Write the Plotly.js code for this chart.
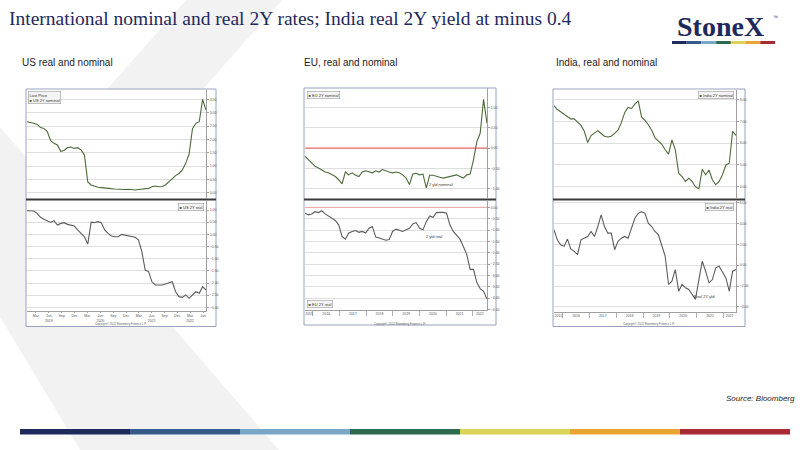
<!DOCTYPE html>
<html>
<head>
<meta charset="utf-8">
<script src="https://cdn.plot.ly/plotly-3.0.1.min.js"></script>
<style>
html, body { margin: 0; padding: 0; background: #fff; }
#chart { width: 800px; height: 450px; }
</style>
</head>
<body>
<div id="chart"></div>
<script>
// US 2Y yields (nominal on top, real below), end 2018 to mid 2022
var usStart = '2018-12-28', usEnd = '2022-06-22';
var usNominal = [2.66, 2.64, 2.60, 2.56, 2.44, 2.41, 2.29, 1.95, 1.85, 1.79,
  1.55, 1.58, 1.69, 1.71, 1.66, 1.69, 1.60, 1.41, 0.40, 0.29,
  0.23, 0.20, 0.19, 0.17, 0.16, 0.15, 0.14, 0.13, 0.12, 0.12,
  0.13, 0.11, 0.10, 0.12, 0.13, 0.14, 0.16, 0.22, 0.25, 0.22,
  0.23, 0.29, 0.41, 0.54, 0.64, 0.72, 0.85, 1.10, 1.45, 2.40,
  2.60, 2.66, 3.50, 3.10];
var usReal = [0.97, 0.97, 0.96, 0.86, 0.70, 0.62, 0.55, 0.49, 0.56, 0.38,
  0.45, 0.48, 0.41, 0.38, 0.34, 0.18, 0.04, -0.10, -0.40, 0.50,
  0.48, 0.52, 0.48, 0.18, 0.04, -0.07, -0.10, -0.10, 0.00, -0.03,
  -0.04, -0.07, -0.12, -0.23, -0.71, -1.47, -1.53, -1.95, -2.08, -2.08,
  -2.08, -2.04, -2.01, -1.95, -2.36, -2.56, -2.59, -2.49, -2.63, -2.49,
  -2.36, -2.42, -2.15, -2.29];

// EU 2Y yields, autumn 2015 to mid 2022
var euStart = '2015-09-15', euEnd = '2022-07-12';
var euNominal = [-0.20, -0.29, -0.37, -0.45, -0.49, -0.53, -0.59, -0.61, -0.66, -0.70,
  -0.78, -0.88, -0.59, -0.66, -0.61, -0.67, -0.70, -0.59, -0.56, -0.59,
  -0.61, -0.56, -0.59, -0.53, -0.57, -0.59, -0.61, -0.59, -0.61, -0.66,
  -0.74, -0.90, -0.64, -0.62, -0.66, -0.64, -0.98, -0.67, -0.67, -0.70,
  -0.72, -0.74, -0.72, -0.70, -0.67, -0.66, -0.70, -0.74, -0.66, -0.64,
  -0.29, 0.16, 0.37, 1.20, 0.61];
var euReal = [-0.26, -0.33, -0.29, -0.19, -0.23, -0.15, -0.29, -0.38, -0.48, -0.58,
  -0.77, -1.28, -1.40, -1.13, -1.06, -1.02, -1.10, -1.06, -1.13, -0.92,
  -0.84, -1.31, -1.35, -1.40, -1.45, -1.42, -1.06, -0.96, -1.02, -1.06,
  -0.99, -0.92, -0.73, -0.67, -0.92, -0.99, -0.63, -0.38, -0.44, -0.23,
  -0.22, -0.22, -0.26, -0.77, -1.06, -1.25, -1.40, -1.72, -2.08, -2.73,
  -2.73, -3.31, -3.58, -3.70, -4.04];

// India 2Y yields, autumn 2015 to mid 2022
var inStart = '2015-09-05', inEnd = '2022-06-20';
var inNominal = [7.73, 7.55, 7.45, 7.33, 7.20, 7.12, 7.12, 6.95, 6.82, 6.55,
  6.03, 6.35, 6.48, 6.58, 6.45, 6.32, 6.29, 6.32, 6.45, 6.60,
  6.95, 7.42, 7.65, 7.60, 7.80, 7.95, 7.20, 7.05, 6.85, 6.60,
  6.25, 6.10, 5.95, 5.70, 5.50, 6.15, 5.70, 4.62, 4.47, 4.24,
  4.39, 4.24, 4.00, 3.90, 4.80, 4.55, 4.77, 4.32, 4.09, 4.24,
  4.55, 5.00, 5.08, 6.55, 6.36];
var inReal = [3.40, 2.44, 1.97, 1.81, 2.51, 1.56, 1.33, 1.02, 2.44, 2.60,
  2.76, 3.24, 2.76, 3.71, 4.83, 3.71, 3.08, 3.08, 1.49, 2.29,
  2.60, 2.76, 2.60, 3.56, 4.51, 4.98, 5.14, 4.98, 4.03, 3.71,
  3.24, 2.92, 1.97, 0.86, -1.84, -1.52, -0.41, -2.48, -1.84, -2.16,
  -2.32, -2.79, -3.27, -1.37, 0.38, -0.57, -1.68, -1.37, -0.25, -0.10,
  -0.73, -1.21, -2.48, -0.57, -0.41];

// tick labels under the bottom axes
var usTickPos = ['2019-03-01', '2019-06-01', '2019-09-01', '2019-12-01', '2020-03-01', '2020-06-01',
  '2020-09-01', '2020-12-01', '2021-03-01', '2021-06-01', '2021-09-01', '2021-12-01', '2022-03-01', '2022-06-01'];
var usTickText = ['Mar', 'Jun<br>2019', 'Sep', 'Dec', 'Mar', 'Jun<br>2020', 'Sep', 'Dec',
  'Mar', 'Jun<br>2021', 'Sep', 'Dec', 'Mar<br>2022', 'Jun'];
var longYears = ['2015', '2016', '2017', '2018', '2019', '2020', '2021', '2022'];
var euYearPos = ['2015-11-10', '2016-07-01', '2017-07-01', '2018-07-01', '2019-07-01', '2020-07-01', '2021-07-01', '2022-04-05'];
var inYearPos = ['2015-11-05', '2016-07-01', '2017-07-01', '2018-07-01', '2019-07-01', '2020-07-01', '2021-07-01', '2022-03-25'];
var barColors = ['#1f2a5c', '#365b8a', '#7aa7c7', '#2d6a4f', '#dcd35a', '#e9a432', '#a62b33'];

// observation dates, evenly spaced between first and last
function spread(start, end, n) {
  var t0 = Date.parse(start), t1 = Date.parse(end), out = [];
  for (var i = 0; i < n; i++) {
    out.push(new Date(t0 + (t1 - t0) * i / (n - 1)).toISOString().slice(0, 10));
  }
  return out;
}
var usDates = spread(usStart, usEnd, usNominal.length);
var euDates = spread(euStart, euEnd, euNominal.length);
var inDates = spread(inStart, inEnd, inNominal.length);

// pixel -> paper
function X(px) { return px / 800; }
function Y(py) { return 1 - py / 450; }

var green = '#4e6a3a', grey = '#5c5c5c';
function line(x, y, n, color) {
  return { x: x, y: y, xaxis: 'x' + n, yaxis: 'y' + n, type: 'scatter', mode: 'lines',
    line: { color: color, width: 1.1 }, hoverinfo: 'skip' };
}
var data = [
  line(usDates, usNominal, '', green),
  line(usDates, usReal, '2', grey),
  line(euDates, euNominal, '3', green),
  line(euDates, euReal, '4', grey),
  line(inDates, inNominal, '5', green),
  line(inDates, inReal, '6', grey)
];

var tickFont = { family: 'Liberation Sans, Arial, sans-serif', size: 3.5, color: '#555' };

function yAx(anchor, top, bottom, range, dtick) {
  return { anchor: anchor, domain: [Y(bottom), Y(top)], range: range, dtick: dtick,
    tickformat: '.2f', side: 'right', showgrid: true, gridcolor: '#dedede', gridwidth: 1,
    zeroline: false, showline: true, linecolor: '#a0a0a0', linewidth: 1,
    ticks: 'outside', ticklen: 2, tickcolor: '#a0a0a0', tickfont: tickFont, fixedrange: true };
}
function xAx(anchor, left, right, start, end, labels) {
  var ax = { anchor: anchor, domain: [X(left), X(right)], type: 'date', range: [start, end],
    showgrid: false, zeroline: false, fixedrange: true, showticklabels: false, showline: false, ticks: '' };
  if (labels) {
    ax.showticklabels = true;
    ax.showline = true;
    ax.linecolor = '#a0a0a0';
    ax.ticks = 'outside';
    ax.ticklen = 1;
    ax.tickcolor = '#a0a0a0';
    ax.tickfont = tickFont;
  }
  return ax;
}
var yearTicks = { dtick: 'M12', tick0: '2015-01-01', ticks: 'outside', ticklen: 5, tickcolor: '#b0b0b0' };

var layout = {
  width: 800, height: 450,
  margin: { l: 0, r: 0, t: 0, b: 0 },
  paper_bgcolor: '#ffffff', plot_bgcolor: 'rgba(0,0,0,0)',
  showlegend: false, hovermode: false,
  font: { family: 'Liberation Sans, Arial, sans-serif', color: '#333' },

  xaxis: xAx('y', 27, 206, usStart, usEnd, false),
  yaxis: yAx('x', 90, 198, [-0.2, 3.85], 0.5),
  xaxis2: Object.assign(xAx('y2', 27, 206, usStart, usEnd, true),
    { tickvals: usTickPos, ticktext: usTickText }),
  yaxis2: yAx('x2', 201, 311, [-3.15, 1.37], 0.5),

  xaxis3: xAx('y3', 305, 487, euStart, euEnd, false),
  yaxis3: yAx('x3', 88, 198, [-1.23, 1.48], 0.5),
  xaxis4: Object.assign(xAx('y4', 305, 487, euStart, euEnd, true),
    { tickvals: euYearPos, ticktext: longYears, ticks: '', minor: yearTicks }),
  yaxis4: yAx('x4', 201, 310, [-4.52, 0.28], 0.5),

  xaxis5: xAx('y5', 554, 736, inStart, inEnd, false),
  yaxis5: yAx('x5', 90, 198, [3.48, 8.45], 1),
  xaxis6: Object.assign(xAx('y6', 554, 736, inStart, inEnd, true),
    { tickvals: inYearPos, ticktext: longYears, ticks: '', minor: yearTicks }),
  yaxis6: yAx('x6', 201, 312, [-4.48, 6.16], 2)
};

// ---- shapes: background chevron, chart frames, dividers, colour bars
function poly(pts) {
  return 'M' + pts.map(function (p) { return X(p[0]) + ',' + Y(p[1]); }).join(' L') + ' Z';
}
var shapes = [
  { type: 'path', xref: 'paper', yref: 'paper', layer: 'below', line: { width: 0 }, fillcolor: '#f2f2f2',
    path: poly([[186, 0], [282, 0], [0, 318], [0, 210]]) },
  { type: 'path', xref: 'paper', yref: 'paper', layer: 'below', line: { width: 0 }, fillcolor: '#f2f2f2',
    path: poly([[0, 127], [279, 450], [80, 450], [0, 317]]) }
];
var frames = [[26, 216, 89, 326.5], [304, 496, 88, 325], [553, 745, 89, 326.5]];
frames.forEach(function (f) {
  shapes.push({ type: 'rect', xref: 'paper', yref: 'paper', layer: 'below',
    x0: X(f[0]), x1: X(f[1]), y0: Y(f[3]), y1: Y(f[2]),
    fillcolor: '#ffffff', line: { color: '#9aa1bd', width: 1 } });
  shapes.push({ type: 'line', xref: 'paper', yref: 'paper', layer: 'above',
    x0: X(f[0]), x1: X(f[1]), y0: Y(199.5), y1: Y(199.5),
    line: { color: '#3a3a3a', width: 2 } });
});
// zero reference lines on the EU charts
shapes.push({ type: 'line', xref: 'x3 domain', yref: 'y3', layer: 'above', x0: 0, x1: 1, y0: 0, y1: 0,
  line: { color: '#ee4b4b', width: 1 } });
shapes.push({ type: 'line', xref: 'x4 domain', yref: 'y4', layer: 'above', x0: 0, x1: 1, y0: 0, y1: 0,
  line: { color: '#f3a3a3', width: 1 } });
// logo bar and footer bar
barColors.forEach(function (c, i) {
  var lw = (775 - 672) / barColors.length, fw = (790 - 20) / barColors.length;
  shapes.push({ type: 'rect', xref: 'paper', yref: 'paper', line: { width: 0 }, fillcolor: c,
    x0: X(672 + i * lw), x1: X(672 + (i + 1) * lw), y0: Y(44), y1: Y(41) });
  shapes.push({ type: 'rect', xref: 'paper', yref: 'paper', line: { width: 0 }, fillcolor: c,
    x0: X(20 + i * fw), x1: X(20 + (i + 1) * fw), y0: Y(434.5), y1: Y(429) });
});
layout.shapes = shapes;

// ---- text
function note(text, px, py, opts) {
  return Object.assign({ text: text, xref: 'paper', yref: 'paper', x: X(px), y: Y(py),
    showarrow: false, xanchor: 'left', yanchor: 'middle' }, opts || {});
}
var tiny = { family: 'Liberation Sans, Arial, sans-serif', size: 4, color: '#333' };
function box(text, px, py, xa, ya) {
  return note(text, px, py, { xanchor: xa, yanchor: ya, align: 'left', font: tiny,
    bgcolor: '#f4f4f4', bordercolor: '#8a8a8a', borderwidth: 0.5, borderpad: 1 });
}
var sq = function (c) { return '<span style="color:' + c + '">■</span> '; };

var notes = [
  note('International nominal and real 2Y rates; India real 2Y yield at minus 0.4', 7, 18,
    { font: { family: 'Liberation Serif, Times New Roman, serif', size: 19.5, color: '#1f2a5c' } }),
  note('US real and nominal', 20, 62, { font: { size: 10, color: '#222' } }),
  note('EU, real and nominal', 302, 62, { font: { size: 10, color: '#222' } }),
  note('India, real and nominal', 554, 62, { font: { size: 10, color: '#222' } }),
  note('<b>StoneX</b>', 720, 26.5, { xanchor: 'center',
    font: { family: 'Liberation Serif, Times New Roman, serif', size: 28, color: '#1f2a5c' } }),
  note('™', 771, 17, { font: { size: 5, color: '#1f2a5c' } }),
  note('<i>Source: Bloomberg</i>', 797, 398, { xanchor: 'right', font: { size: 8, color: '#222' } }),

  box('Last Price<br>' + sq(green) + 'US 2Y nominal', 28, 91, 'left', 'top'),
  box(sq(grey) + 'US 2Y real', 204, 203, 'right', 'top'),
  box(sq(green) + 'EU 2Y nominal', 307, 91, 'left', 'top'),
  box(sq(grey) + 'EU 2Y real', 307, 308, 'left', 'bottom'),
  box(sq(green) + 'India 2Y nominal', 734, 91, 'right', 'top'),
  box(sq(grey) + 'India 2Y real', 734, 203, 'right', 'top'),

  { text: '2 yld nominal', xref: 'x3', yref: 'y3', x: '2020-10-15', y: -0.9, showarrow: false, font: tiny },
  { text: '2 yld real', xref: 'x4', yref: 'y4', x: '2020-07-15', y: -1.28, showarrow: false, font: tiny },
  { text: 'Real 2Y yld', xref: 'x6', yref: 'y6', x: '2021-04-15', y: -2.95, showarrow: false, font: tiny }
];
frames.forEach(function (f) {
  notes.push(note('Copyright© 2022 Bloomberg Finance L.P.', (f[0] + f[1]) / 2, 323.8,
    { xanchor: 'center', font: { size: 2.8, color: '#666' } }));
});
layout.annotations = notes;

Plotly.newPlot('chart', data, layout, { displayModeBar: false, staticPlot: true });
</script>
</body>
</html>
